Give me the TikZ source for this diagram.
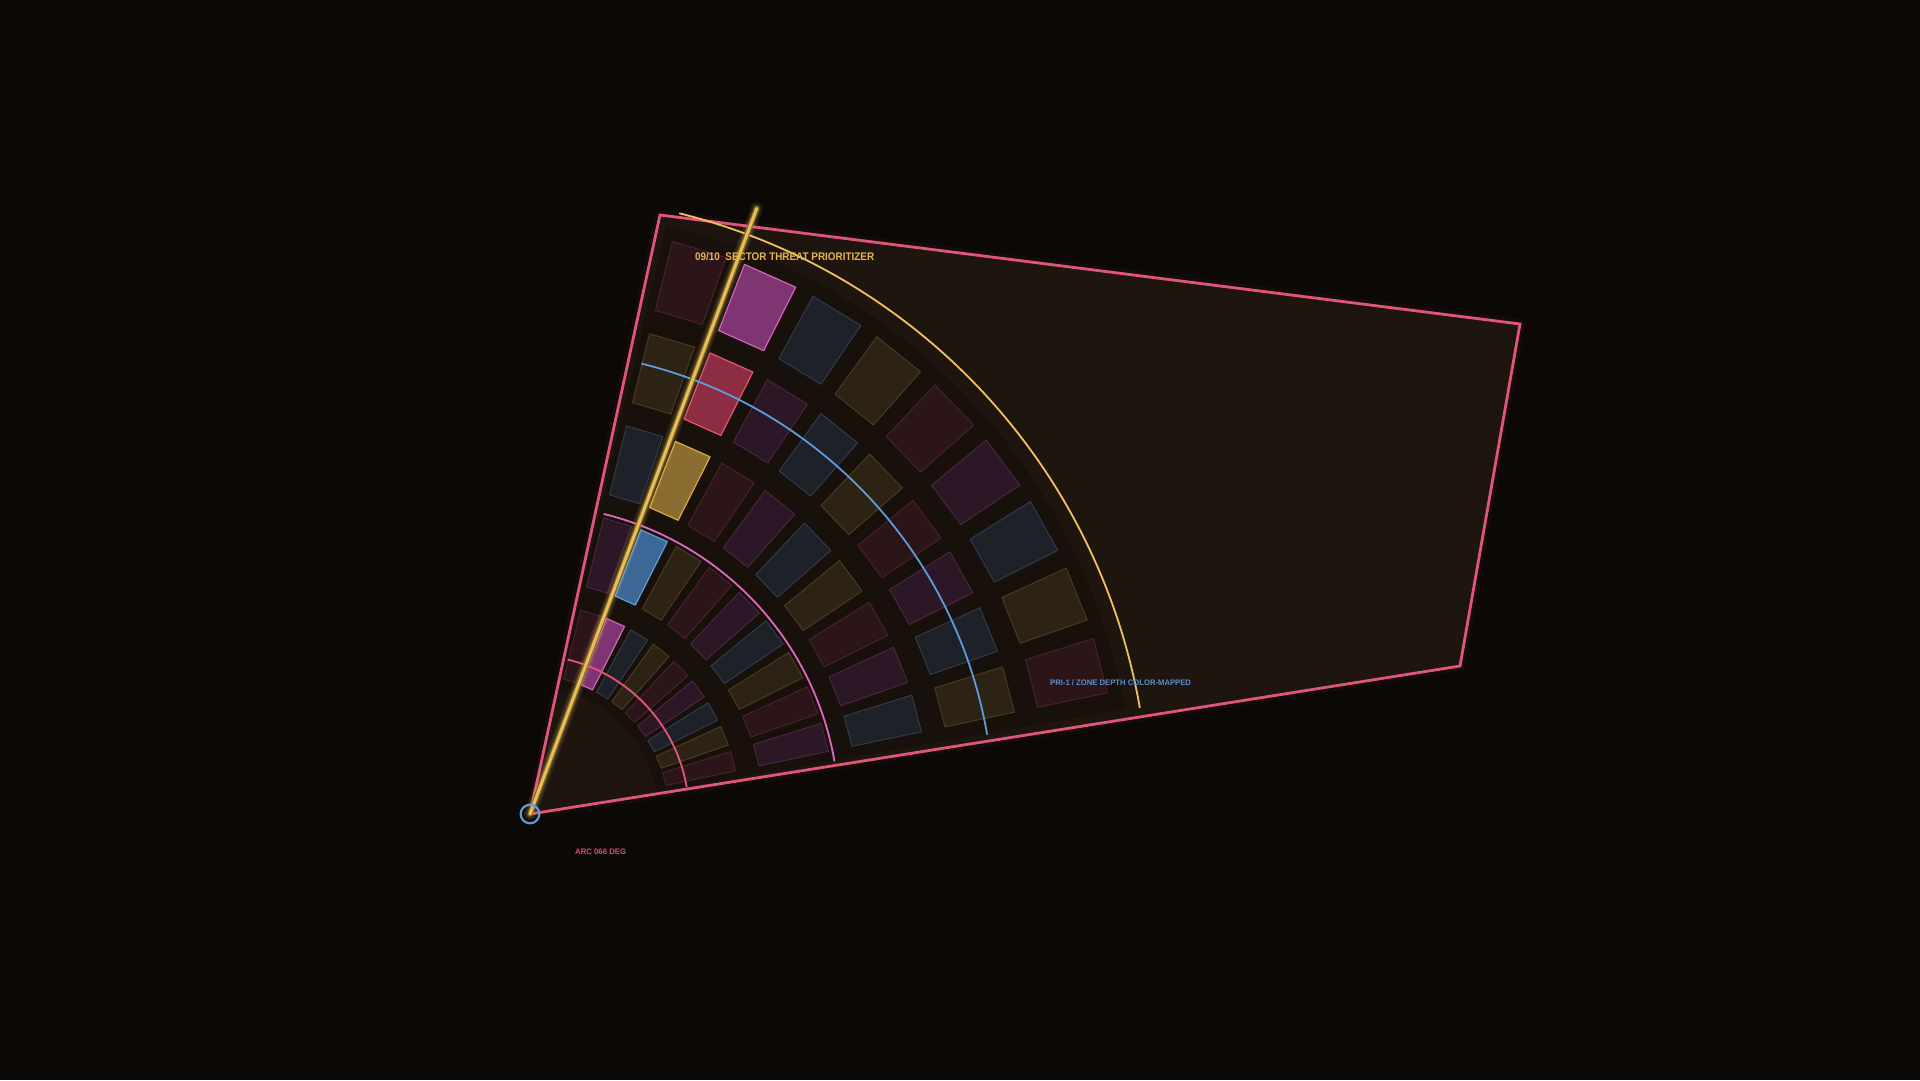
\documentclass[tikz,border=0pt]{standalone}
\usepackage{fontspec}
\setmainfont{Liberation Sans}
\definecolor{bg}{HTML}{0B0805}
\definecolor{panel}{HTML}{1E150E}
\definecolor{edgepink}{HTML}{E0567A}
\definecolor{arcyel}{HTML}{F0C25E}
\definecolor{lineyel}{HTML}{E8BE55}
\definecolor{arcblue}{HTML}{5D9BDB}
\definecolor{arcmag}{HTML}{DC68C0}
\definecolor{arcred}{HTML}{E2567C}
\definecolor{txtyel}{HTML}{E6B54E}
\definecolor{txtblue}{HTML}{5B8FD0}
\definecolor{txtpink}{HTML}{D9506F}
\definecolor{dF0}{HTML}{2B1519}\definecolor{dE0}{HTML}{4D2228}
\definecolor{dF1}{HTML}{2C1726}\definecolor{dE1}{HTML}{4F2642}
\definecolor{dF2}{HTML}{1F2128}\definecolor{dE2}{HTML}{313D52}
\definecolor{dF3}{HTML}{2C2315}\definecolor{dE3}{HTML}{4D3D1E}
\definecolor{bF0}{HTML}{8C2D43}\definecolor{bE0}{HTML}{E2566F}
\definecolor{bF1}{HTML}{7E3572}\definecolor{bE1}{HTML}{D463BA}
\definecolor{bF2}{HTML}{3D6797}\definecolor{bE2}{HTML}{5D9DDB}
\definecolor{bF3}{HTML}{8B6C31}\definecolor{bE3}{HTML}{D9A944}
\tikzset{
  tileD0/.style={fill=dF0,draw=dE0,line width=0.9pt},
  tileD1/.style={fill=dF1,draw=dE1,line width=0.9pt},
  tileD2/.style={fill=dF2,draw=dE2,line width=0.9pt},
  tileD3/.style={fill=dF3,draw=dE3,line width=0.9pt},
  tileB0/.style={fill=bF0,draw=bE0,line width=1.2pt},
  tileB1/.style={fill=bF1,draw=bE1,line width=1.2pt},
  tileB2/.style={fill=bF2,draw=bE2,line width=1.2pt},
  tileB3/.style={fill=bF3,draw=bE3,line width=1.2pt},
  ringarc/.style={line width=1.8pt},
  label/.style={inner sep=0pt,font=\bfseries},
}
\begin{document}
\begin{tikzpicture}[x=1pt,y=1pt]
\useasboundingbox (0,0) rectangle (1920,-1080);
\fill[bg] (0,0) rectangle (1920,-1080);
\coordinate (O) at (530,-814);
\coordinate (A) at (660,-215);
\coordinate (B) at (1520,-324);
\coordinate (C) at (1460,-666);
% faint glow of panel
\draw[edgepink,opacity=0.05,line width=10pt,line join=round] (O) -- (A) -- (B) -- (C) -- cycle;
\fill[panel] (O) -- (A) -- (B) -- (C) -- cycle;
\begin{scope}[shift={(O)}]
  % darker annular band
  \fill[black,opacity=0.2] (77:128) -- (77:604) arc[start angle=77,end angle=10,radius=604] -- (10:128) arc[start angle=10,end angle=77,radius=128] -- cycle;
  \foreach \i in {1,...,5} {
    \foreach \k in {0,...,8} {
      \pgfmathsetmacro\rin{139+95*(\i-1)}
      \pgfmathsetmacro\rout{\rin+71}
      \pgfmathsetmacro\aA{73.3-7.34*\k+2.72}
      \pgfmathsetmacro\aB{73.3-7.34*\k-2.72}
      \pgfmathtruncatemacro\ci{mod(\k+\i+3,4)}
      \ifnum\k=1 \def\st{tileB\ci}\else\def\st{tileD\ci}\fi
      \draw[\st,line join=round] (\aA:\rin) -- (\aA:\rout) -- (\aB:\rout) -- (\aB:\rin) -- cycle;
    }
  }
\end{scope}
% panel outline
\draw[edgepink,line width=2.8pt,line join=miter] (O) -- (A) -- (B) -- (C) -- cycle;
\begin{scope}[shift={(O)}]
  \draw[ringarc,arcred]  (76.3:159) arc[start angle=76.3,end angle=9.8,radius=159];
  \draw[ringarc,arcmag]  (76.2:309) arc[start angle=76.2,end angle=9.8,radius=309];
  \draw[ringarc,arcblue] (76.1:464) arc[start angle=76.1,end angle=9.85,radius=464];
  \draw[ringarc,arcyel]  (76.05:619) arc[start angle=76.05,end angle=9.86,radius=619];
\end{scope}
% highlighted bearing line
\coordinate (T) at (756.7,-208.5);
\draw[lineyel,opacity=0.10,line width=12pt,line cap=round] (O) -- (T);
\draw[lineyel,opacity=0.16,line width=8pt,line cap=round] (O) -- (T);
\draw[black!45!lineyel,line width=5.2pt,line cap=round] (O) -- (T);
\draw[lineyel,line width=3pt,line cap=round] (O) -- (T);
% origin marker
\draw[arcblue,line width=2.2pt] (O) circle[radius=9.3];
% labels
\node[label,txtyel,anchor=base west,font=\bfseries\fontsize{11}{13}\selectfont,xscale=0.9,transform shape] (title) at (695,-260.5) {09/10\ \ SECTOR THREAT PRIORITIZER};
\node[label,txtblue,anchor=base west,font=\bfseries\fontsize{8}{10}\selectfont,xscale=0.96,transform shape] (pri) at (1050,-685) {PRI-1 / ZONE DEPTH COLOR-MAPPED};
\node[label,txtpink,anchor=base west,font=\bfseries\fontsize{8}{10}\selectfont,xscale=0.97,transform shape] (arc) at (575,-854.5) {ARC 066 DEG};
\end{tikzpicture}
\end{document}
